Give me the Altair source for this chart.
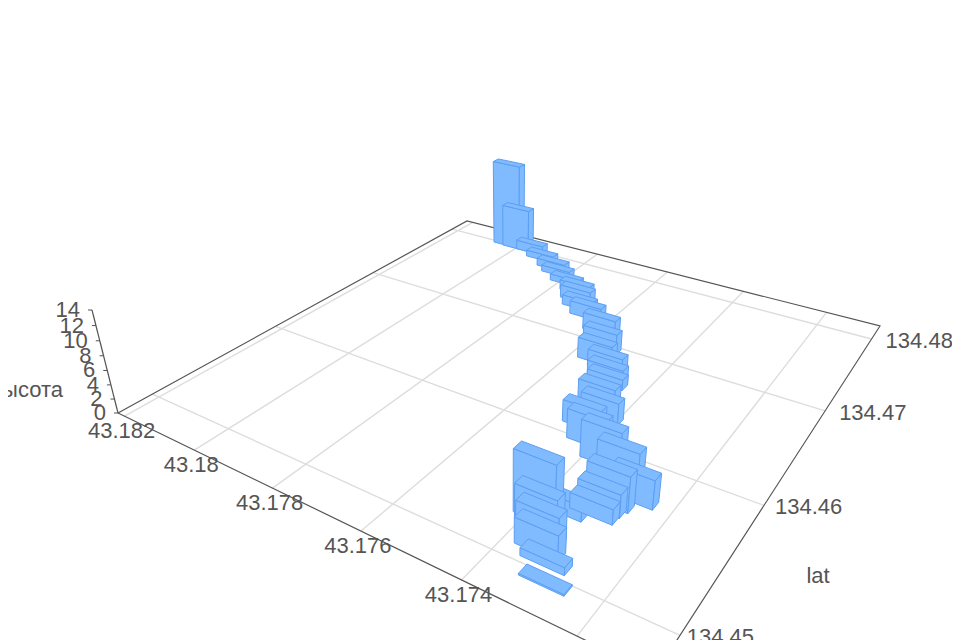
import altair as alt
import numpy as np
import pandas as pd

# values
lat_values = [43.18032,43.18001,43.17957,43.17910,43.17857,43.17829,43.17784,43.17738,43.17715,43.17693,43.17655,
              43.17594,43.17557,43.17541,43.17506,43.17485,43.17481,43.17459,43.17432,43.17447,43.17413,43.17364,
              43.17312,43.17270,43.17300,43.17306,43.17308,43.17354,43.17381,43.17370,43.17354,43.17338,43.17315,43.17294]
lon_values = [134.48004,134.47994,134.47993,134.47919,134.47820,134.47751,134.47654,134.47563,134.47454,134.47368,134.47278,
              134.47136,134.46943,134.46790,134.46730,134.46614,134.46593,134.46365,134.46253,134.46126,134.46000,134.45890,
              134.45781,134.45700,134.45610,134.45556,134.45493,134.45430,134.45316,134.45277,134.45214,134.45129,134.45072,134.44962]
height_values = [14,7,1.5,1,1.2,1,1,1.5,2,1.5,2,2.5,3,3,2.5,2.5,1.5,3,3,3,4,5,5,3.8,4.7,3,2,2,8,4.5,3.7,3.3,1,0.2]
lat_ticks = [43.182,43.18,43.178,43.176,43.174,43.172]
lat_tick_labels = ["43.182","43.18","43.178","43.176","43.174","43.172"]
lon_ticks = [134.45,134.46,134.47,134.48]
z_ticks = [0,2,4,6,8,10,12,14]
LAT_MAX, LAT_MIN = 43.1822, 43.1708
LON_MIN, LON_MAX = 134.4476, 134.4821
HALF_LAT, HALF_LON = 0.0004, 0.00036

# camera: where the floor's corners and the vertical vanishing point fall
(x0,y0),(x1,y1),(x2,y2),(x3,y3) = (118,413),(655,674),(880,326),(467,221)
dx1,dx2,sx = x1-x2,x3-x2,x0-x1+x2-x3
dy1,dy2,sy = y1-y2,y3-y2,y0-y1+y2-y3
den = dx1*dy2-dx2*dy1
g = (sx*dy2-dx2*sy)/den
h = (dx1*sy-sx*dy1)/den
M = np.array([[x1-x0+g*x1,x3-x0+h*x3,x0],[y1-y0+g*y1,y3-y0+h*y3,y0],[g,h,1.0]])
vp = np.array([510.0,1966.0,1.0])
Z = -(413-310)/(14*(vp[1]-310))*vp

def uv(lat, lon):
    return (LAT_MAX-lat)/(LAT_MAX-LAT_MIN), (lon-LON_MIN)/(LON_MAX-LON_MIN)

def project(lat, lon, z=0.0):
    u, v = uv(lat, lon)
    p = M @ np.array([u, v, 1.0]) + z*Z
    return p[0]/p[2], p[1]/p[2]

def depth(lat, lon):
    u, v = uv(lat, lon)
    return (M @ np.array([u, v, 1.0]))[2]

def polylines(segments):
    rows = []
    for i, pts in enumerate(segments):
        for k, (la, lo, z) in enumerate(pts):
            px, py = project(la, lo, z)
            rows.append(dict(id=i, k=k, px=px, py=py))
    return pd.DataFrame(rows)

X = alt.X("px:Q", scale=alt.Scale(domain=[8,952], nice=False, zero=False), axis=None)
Y = alt.Y("py:Q", scale=alt.Scale(domain=[640,8], nice=False, zero=False), axis=None)

grid_segments = [[(la,LON_MIN,0),(la,LON_MAX,0)] for la in lat_ticks] + \
                [[(LAT_MAX,lo,0),(LAT_MIN,lo,0)] for lo in lon_ticks]
grid = alt.Chart(polylines(grid_segments)).mark_line(color="#dddddd", strokeWidth=1.4).encode(
    x=X, y=Y, detail="id:N", order="k:Q")

border_segments = [[(LAT_MAX,LON_MIN,0),(LAT_MIN,LON_MIN,0),(LAT_MIN,LON_MAX,0),(LAT_MAX,LON_MAX,0),(LAT_MAX,LON_MIN,0)],
                   [(LAT_MAX,LON_MIN,0),(LAT_MAX,LON_MIN,14)]]
border = alt.Chart(polylines(border_segments)).mark_line(color="#555555", strokeWidth=1.2).encode(
    x=X, y=Y, detail="id:N", order="k:Q")

# bars, far ones first; each bar's sides, then its top
faces = []
for i in sorted(range(len(lat_values)), key=lambda j: -depth(lat_values[j], lon_values[j])):
    la, lo, z = lat_values[i], lon_values[i], height_values[i]
    a, b = la+HALF_LAT, la-HALF_LAT
    c, d = lo-HALF_LON, lo+HALF_LON
    faces.append([(a,c,0),(b,c,0),(b,c,z),(a,c,z),(a,c,0)])
    faces.append([(b,c,0),(b,d,0),(b,d,z),(b,c,z),(b,c,0)])
    faces.append([(a,c,z),(b,c,z),(b,d,z),(a,d,z),(a,c,z)])
face_df = polylines(faces)
face_df["id"] = face_df["id"].map(lambda n: f"f{n:03d}")
bars = alt.Chart(face_df).mark_line(fill="#80BBFF", stroke="#5C9EF2", strokeWidth=1, strokeJoin="round").encode(
    x=X, y=Y, detail="id:N", order="k:Q")

FONT = dict(font="Liberation Sans", fontSize=22, color="#555555")

xl = pd.DataFrame([dict(zip(("px","py"),project(la,LON_MIN)), label=t) for la,t in zip(lat_ticks,lat_tick_labels)])
x_labels = alt.Chart(xl).mark_text(dx=-3, dy=15, baseline="middle", align="center", **FONT).encode(x=X, y=Y, text="label:N")

yl = pd.DataFrame([dict(zip(("px","py"),project(LAT_MIN,lo)), label=f"{lo:.2f}") for lo in lon_ticks])
yl["px"] = yl["px"] + (yl["px"]-825).clip(upper=0)*0.05
y_labels = alt.Chart(yl).mark_text(dx=14, dy=2, baseline="middle", align="left", **FONT).encode(x=X, y=Y, text="label:N")

zl = pd.DataFrame([dict(zip(("px","py"),project(LAT_MAX,LON_MIN,t)), label=str(t)) for t in z_ticks])
zl["px2"] = zl["px"] - 4
z_labels = alt.Chart(zl).mark_text(dx=-12, baseline="middle", align="right", **FONT).encode(x=X, y=Y, text="label:N")
z_ticks_m = alt.Chart(zl).mark_rule(color="#555555", strokeWidth=1).encode(x=X, x2="px2:Q", y=Y)

name_df = pd.DataFrame({"label":["lat"]})
lat_name = alt.Chart(name_df).mark_text(baseline="middle", align="center", **FONT).encode(
    x=alt.value(810), y=alt.value(568), text="label:N")
z_df = pd.DataFrame({"label":["высота"]})
z_name = alt.Chart(z_df).mark_text(baseline="middle", align="right", **FONT).encode(
    x=alt.value(55), y=alt.value(382), text="label:N")

chart = alt.layer(grid, border, z_ticks_m, bars, x_labels, y_labels, z_labels, lat_name, z_name).properties(
    width=944, height=632, padding=0, autosize="none", background="white"
).configure_view(stroke=None)

chart.save("out.html", embed_options={"renderer": "svg", "actions": False})
